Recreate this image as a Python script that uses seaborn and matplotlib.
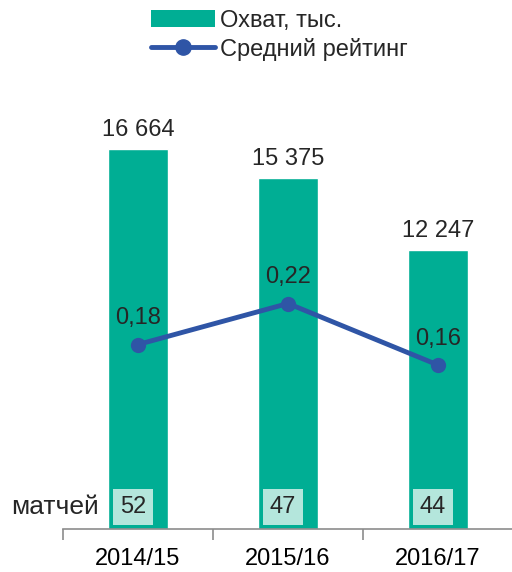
import matplotlib
matplotlib.use('Agg')
import matplotlib.pyplot as plt
import seaborn as sns
import pandas as pd
from matplotlib.patches import Patch
from matplotlib.lines import Line2D

seasons = ['2014/15', '2015/16', '2016/17']
reach = [16664, 15375, 12247]
rating = [0.18, 0.22, 0.16]
matches = [52, 47, 44]

teal = '#00ae94'
blue = '#2f55a6'
font = ['Liberation Sans', 'DejaVu Sans']

sns.set_theme(style='white')
plt.rcParams['font.family'] = font

df = pd.DataFrame({'season': seasons, 'reach': reach})

fig = plt.figure(figsize=(5.12, 5.72), dpi=100)
ax = fig.add_axes([63 / 512, 43 / 572, 450 / 512, 456 / 572])

sns.barplot(data=df, x='season', y='reach', color=teal, width=0.4,
            saturation=1, ax=ax)
ax.set_xlim(-0.5, 2.5)
ax.set_ylim(0, 20000)
ax.set_xlabel('')
ax.set_ylabel('')
ax.set_yticks([])
for s in ['top', 'right', 'left']:
    ax.spines[s].set_visible(False)
ax.spines['bottom'].set_color('#8c8c8c')
ax.spines['bottom'].set_linewidth(1.2)
ax.tick_params(axis='x', which='major', length=0, labelsize=17, pad=14, colors='black')
ax.set_xticks([-0.5, 0.5, 1.5], minor=True)
ax.tick_params(axis='x', which='minor', bottom=True, length=8, width=1.2,
               color='#8c8c8c', direction='out')

for i, v in enumerate(reach):
    ax.text(i, v + 350, f'{v:,}'.replace(',', ' '), ha='center', va='bottom', fontsize=17)

for i, m in enumerate(matches):
    ax.text(i - 0.033, 965, str(m), ha='center', va='center', fontsize=17,
            bbox=dict(facecolor='#b4e6dc', edgecolor='none', boxstyle='square,pad=0.3'))
ax.text(-0.263, 965, 'матчей', ha='right', va='center', fontsize=19)

ax2 = ax.twinx()
sns.lineplot(x=list(range(len(seasons))), y=rating, color=blue, linewidth=3.5,
             marker='o', markersize=11, markeredgewidth=0, ax=ax2)
ax2.set_ylim(0, 456 / 1025)
ax2.set_yticks([])
for s in ['top', 'right', 'left', 'bottom']:
    ax2.spines[s].set_visible(False)
for i, r in enumerate(rating):
    ax2.text(i, r + 0.015, f'{r:.2f}'.replace('.', ','), ha='center', va='bottom', fontsize=17)

handles = [Patch(facecolor=teal, edgecolor='none'),
           Line2D([0], [0], color=blue, linewidth=3.5, marker='o', markersize=11)]
fig.legend(handles, ['Охват, тыс.', 'Средний рейтинг'], loc='upper left',
           bbox_to_anchor=(134 / 512, 1.012), frameon=False, fontsize=17,
           handlelength=2.75, handletextpad=0.2, labelspacing=0.25, borderaxespad=0.3)

fig.savefig('out.png', dpi=100)
